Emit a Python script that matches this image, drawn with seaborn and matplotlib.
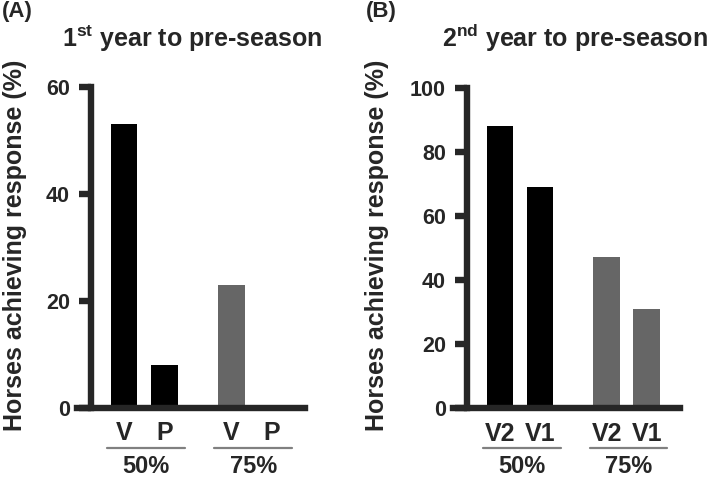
import matplotlib
matplotlib.use("Agg")
import matplotlib.pyplot as plt
import seaborn as sns
import pandas as pd

# ---------------- data ----------------
groups = ["50%", "50%", "75%", "75%"]
a_labels = ["V", "P", "V", "P"]
a_values = [53, 8, 23, 0]
b_labels = ["V2", "V1", "V2", "V1"]
b_values = [88, 69, 47, 31]
a_title = r"$\mathbf{1^{st}}$ year to pre-season"
b_title = r"$\mathbf{2^{nd}}$ year to pre-season"
ylabel = "Horses achieving response (%)"
a_ticks = [0, 20, 40, 60]
b_ticks = [0, 20, 40, 60, 80, 100]

sns.set_style("ticks")
plt.rcParams["font.family"] = ["Liberation Sans", "DejaVu Sans"]
plt.rcParams["font.weight"] = "bold"
plt.rcParams["mathtext.fontset"] = "custom"
plt.rcParams["mathtext.bf"] = "Liberation Sans:bold"
plt.rcParams["mathtext.rm"] = "Liberation Sans"

W, H = 709, 479
fig = plt.figure(figsize=(W / 100, H / 100), dpi=100)

palette = {"50%": "#000000", "75%": "#666666"}
GROUP_STEP = 2.667


def positions(grps):
    order = list(dict.fromkeys(grps))
    pos, counts = [], {}
    for g in grps:
        i = counts.get(g, 0)
        counts[g] = i + 1
        pos.append(order.index(g) * GROUP_STEP + i)
    return pos


def panel(rect, labels, values, ticks, title, title_x, letter, letter_x, ylab_x):
    l, t, r, b = rect
    ax = fig.add_axes([l / W, 1 - b / H, (r - l) / W, (b - t) / H])
    pos = positions(groups)
    df = pd.DataFrame({"pos": pos, "val": values, "grp": groups})
    sns.barplot(data=df, x="pos", y="val", hue="grp", palette=palette,
                native_scale=True, width=0.66, dodge=False, legend=False,
                linewidth=0, saturation=1, ax=ax)
    ax.set_xlim(-1.17, 4.5)
    ax.set_ylim(0, ticks[-1])
    for s in ["top", "right"]:
        ax.spines[s].set_visible(False)
    ax.spines["left"].set_position(("data", -0.83))
    ax.spines["left"].set_linewidth(4.6)
    ax.spines["bottom"].set_linewidth(4.6)
    ax.spines["left"].set_capstyle("projecting")
    ax.set_yticks(ticks)
    ax.set_yticklabels([str(v) for v in ticks], fontsize=15.5, fontweight="bold")
    ax.tick_params(axis="y", length=9, width=4.6, pad=6)
    ax.set_xticks(pos)
    ax.set_xticklabels(labels, fontsize=18, fontweight="bold")
    ax.tick_params(axis="x", length=0, pad=10)
    ax.set_xlabel("")
    ax.set_ylabel("")
    # group underline + label
    order = list(dict.fromkeys(groups))
    trans = ax.get_xaxis_transform()
    for gi, g in enumerate(order):
        gp = [p for p, gg in zip(pos, groups) if gg == g]
        c = (min(gp) + max(gp)) / 2 + 0.05
        ax.plot([c - 0.97, c + 0.97], [-0.126, -0.126], transform=trans,
                color="#808080", lw=1.6, clip_on=False)
        ax.text(c, -0.183, g, transform=trans, ha="center", va="center",
                fontsize=17, fontweight="bold")
    fig.text(title_x / W, 1 - 47 / H, title, ha="center", va="baseline",
             fontsize=18, fontweight="bold")
    fig.text(letter_x / W, 1 - 1 / H, letter, ha="left", va="top",
             fontsize=16, fontweight="bold")
    fig.text(ylab_x / W, 1 - 245 / H, ylabel, rotation=90, ha="center",
             va="center", fontsize=18, fontweight="bold")
    return ax


panel((77, 87, 305, 407.5), a_labels, a_values, a_ticks, a_title, 192.5,
      "(A)", 2, 15)
panel((453, 87.5, 680, 408), b_labels, b_values, b_ticks, b_title, 575,
      "(B)", 366, 377)

fig.savefig("out.png", dpi=100)
